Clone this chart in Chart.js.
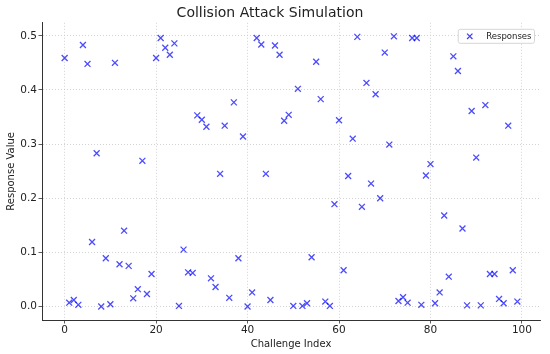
<!DOCTYPE html>
<html>
<head>
<meta charset="utf-8">
<script src="https://cdn.jsdelivr.net/npm/chart.js@4/dist/chart.umd.min.js"></script>
<style>
  body { margin: 0; background: #fff; }
  #chart-box { width: 550px; height: 354px; }
</style>
</head>
<body>
<div id="chart-box"><canvas id="scatter-chart" width="550" height="354"></canvas></div>
<script>
const chartTitle = 'Collision Attack Simulation';
const seriesName = 'Responses';
const xTitle = 'Challenge Index';
const yTitle = 'Response Value';

// one value per challenge, index = position in the list
const responseValues = [
  0.459, 0.007, 0.012, 0.003, 0.483, 0.448, 0.119, 0.283, 0.000, 0.089,
  0.004, 0.450, 0.078, 0.140, 0.075, 0.015, 0.032, 0.269, 0.023, 0.060,
  0.459, 0.496, 0.478, 0.465, 0.486, 0.001, 0.105, 0.063, 0.062, 0.353,
  0.345, 0.332, 0.052, 0.036, 0.245, 0.334, 0.016, 0.377, 0.089, 0.314,
  0.000, 0.026, 0.496, 0.484, 0.245, 0.012, 0.482, 0.465, 0.343, 0.354,
  0.001, 0.402, 0.001, 0.006, 0.091, 0.452, 0.383, 0.009, 0.001, 0.189,
  0.344, 0.067, 0.241, 0.310, 0.498, 0.184, 0.413, 0.227, 0.392, 0.200,
  0.469, 0.299, 0.499, 0.010, 0.017, 0.007, 0.496, 0.496, 0.003, 0.242,
  0.263, 0.006, 0.026, 0.168, 0.055, 0.462, 0.435, 0.144, 0.002, 0.361,
  0.275, 0.002, 0.372, 0.060, 0.060, 0.014, 0.006, 0.334, 0.067, 0.009
];

const xTicks = [0, 20, 40, 60, 80, 100];
const yTicks = [0.0, 0.1, 0.2, 0.3, 0.4, 0.5];

const markerColor = 'rgba(0, 0, 255, 0.7)';
const fontName = '"DejaVu Sans", sans-serif';

// legend drawn inside the plot, with a light frame, like the original
const boxedLegend = {
  id: 'boxedLegend',
  afterDraw(chart) {
    const ctx = chart.ctx;
    const area = chart.chartArea;
    const ds = chart.data.datasets[0];
    ctx.save();
    ctx.font = '8.5px ' + fontName;
    const textW = ctx.measureText(ds.label).width;
    const w = textW + 31;
    const h = 14;
    const x = area.right - 6 - w;
    const y = area.top + 6;
    ctx.fillStyle = 'rgba(255,255,255,0.8)';
    ctx.strokeStyle = '#d6d6d6';
    ctx.lineWidth = 1;
    ctx.beginPath();
    ctx.roundRect(x + 0.5, y + 0.5, w, h, 2);
    ctx.fill();
    ctx.stroke();

    Chart.helpers.drawPoint(ctx, {
      pointStyle: 'crossRot',
      radius: 3.8,
      rotation: 0,
      borderWidth: 1.3
    }, x + 12, y + h / 2 + 0.5);
    ctx.strokeStyle = markerColor;
    ctx.lineWidth = 1.3;
    ctx.stroke();

    ctx.fillStyle = '#222';
    ctx.textBaseline = 'middle';
    ctx.fillText(ds.label, x + 28.5, y + h / 2 + 0.5);
    ctx.restore();
  }
};

const gridStyle = {
  color: '#c8c8c8',
  lineWidth: 0.8,
  tickColor: '#333',
  tickLength: 3.5,
  tickBorderDash: []
};

// in Chart.js 4 the dash of the grid lines sits under "border"
const borderStyle = { display: true, color: '#333', width: 1, dash: [1, 2] };

const ctx = document.getElementById('scatter-chart');
new Chart(ctx, {
  type: 'scatter',
  data: {
    datasets: [{
      label: seriesName,
      data: responseValues.map((v, i) => ({ x: i, y: v })),
      pointStyle: 'crossRot',
      pointRadius: 4.2,
      pointHoverRadius: 4.2,
      borderWidth: 1.3,
      borderColor: markerColor,
      backgroundColor: markerColor
    }]
  },
  options: {
    responsive: false,
    animation: false,
    layout: { padding: { left: 0, right: 10, top: 0, bottom: 0 } },
    plugins: {
      legend: { display: false },
      tooltip: { enabled: false },
      title: {
        display: true,
        text: chartTitle,
        color: '#222',
        font: { family: fontName, size: 14, weight: 'normal' },
        padding: { top: 4.5, bottom: 1.5 }
      }
    },
    scales: {
      x: {
        type: 'linear',
        min: -4.95,
        max: 103.95,
        afterFit(scale) { scale.height = 34; },
        afterBuildTicks(scale) { scale.ticks = xTicks.map(v => ({ value: v })); },
        ticks: {
          color: '#222',
          font: { family: fontName, size: 10.5 },
          padding: 0,
          maxRotation: 0
        },
        grid: gridStyle,
        border: borderStyle,
        title: {
          display: true,
          text: xTitle,
          color: '#222',
          font: { family: fontName, size: 10 },
          padding: { top: 0, bottom: 4 }
        }
      },
      y: {
        type: 'linear',
        min: -0.025,
        max: 0.524,
        afterFit(scale) { scale.width = 42; },
        afterBuildTicks(scale) { scale.ticks = yTicks.map(v => ({ value: v })); },
        ticks: {
          color: '#222',
          font: { family: fontName, size: 10.5 },
          padding: 1.5,
          callback: v => v.toFixed(1)
        },
        grid: gridStyle,
        border: borderStyle,
        title: {
          display: true,
          text: yTitle,
          color: '#222',
          font: { family: fontName, size: 10 },
          padding: { top: 5, bottom: 0 }
        }
      }
    }
  },
  plugins: [boxedLegend]
});
</script>
</body>
</html>
